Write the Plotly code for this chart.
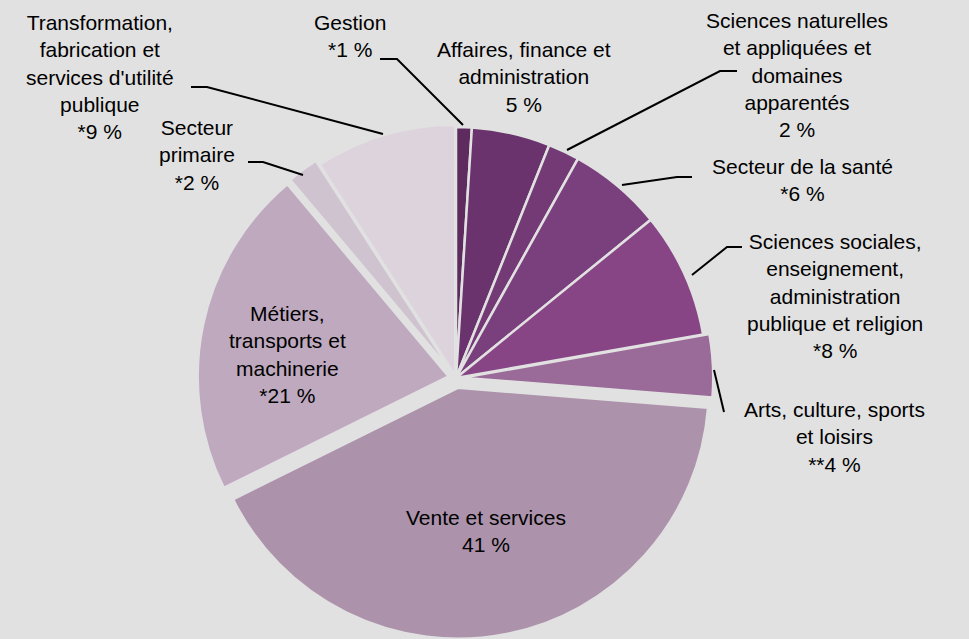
import plotly.graph_objects as go

categories = [
    "Gestion",
    "Affaires, finance et<br>administration",
    "Sciences naturelles<br>et appliquées et<br>domaines<br>apparentés",
    "Secteur de la santé",
    "Sciences sociales,<br>enseignement,<br>administration<br>publique et religion",
    "Arts, culture, sports<br>et loisirs",
    "Vente et services",
    "Métiers,<br>transports et<br>machinerie",
    "Secteur<br>primaire",
    "Transformation,<br>fabrication et<br>services d'utilité<br>publique",
]
values = [1, 5, 2, 6, 8, 4, 41, 21, 2, 9]
value_labels = ["*1 %", "5 %", "2 %", "*6 %", "*8 %", "**4 %", "41 %", "*21 %", "*2 %", "*9 %"]

colors = ["#5e2b5f", "#6a336e", "#733a76", "#7a3f7d", "#874585",
          "#9a6a98", "#ac93ab", "#bea9bf", "#cfc3d0", "#ddd3dc"]
pulls = [0, 0, 0, 0, 0, 0.025, 0.04, 0.03, 0.03, 0.01]

BG = "#e1e1e1"
W, H = 969, 639

fig = go.Figure(go.Pie(
    values=values,
    labels=[c.replace("<br>", " ") for c in categories],
    sort=False,
    direction="clockwise",
    rotation=0,
    pull=pulls,
    marker=dict(colors=colors, line=dict(color=BG, width=2.5)),
    textinfo="none",
    hoverinfo="label+value",
    showlegend=False,
    domain=dict(x=[195 / W, 717 / W], y=[0, 522 / H]),
))

# label centres (pixels) and leader lines (pixels)
label_pos = [(350, 36), (524, 77), (797, 75), (802, 180), (835, 296),
             (834, 437), (486, 531), (287, 354), (197, 155), (100, 77)]
leaders = [
    [(380, 59), (397, 59), (463, 125)],
    None,
    [(737, 71), (720, 71), (567, 150)],
    [(692, 177), (677, 177), (622, 185)],
    [(742, 247), (727, 247), (692, 275)],
    [(714, 370), (724, 412)],
    None,
    None,
    [(248, 162), (263, 162), (303, 175)],
    [(191, 87), (207, 87), (383, 134)],
]

font = dict(family="Liberation Sans, Arial, sans-serif", size=21, color="#000000")

annotations = []
for cat, vl, (px, py) in zip(categories, value_labels, label_pos):
    annotations.append(dict(
        x=px / W, y=1 - py / H, xref="paper", yref="paper",
        text=f"{cat}<br>{vl}", showarrow=False, align="center",
        xanchor="center", yanchor="middle", font=font,
    ))

shapes = []
for pts in leaders:
    if not pts:
        continue
    path = "M " + " L ".join(f"{x / W},{1 - y / H}" for x, y in pts)
    shapes.append(dict(type="path", path=path, xref="paper", yref="paper",
                       line=dict(color="#000000", width=2)))

fig.update_layout(
    width=W, height=H,
    margin=dict(l=0, r=0, t=0, b=0),
    paper_bgcolor=BG, plot_bgcolor=BG,
    annotations=annotations, shapes=shapes,
    font=font,
)

fig.write_html(
    "out.html",
    config={"displayModeBar": False},
    post_script="document.body.style.margin='0';document.body.style.background='%s';" % BG,
)
